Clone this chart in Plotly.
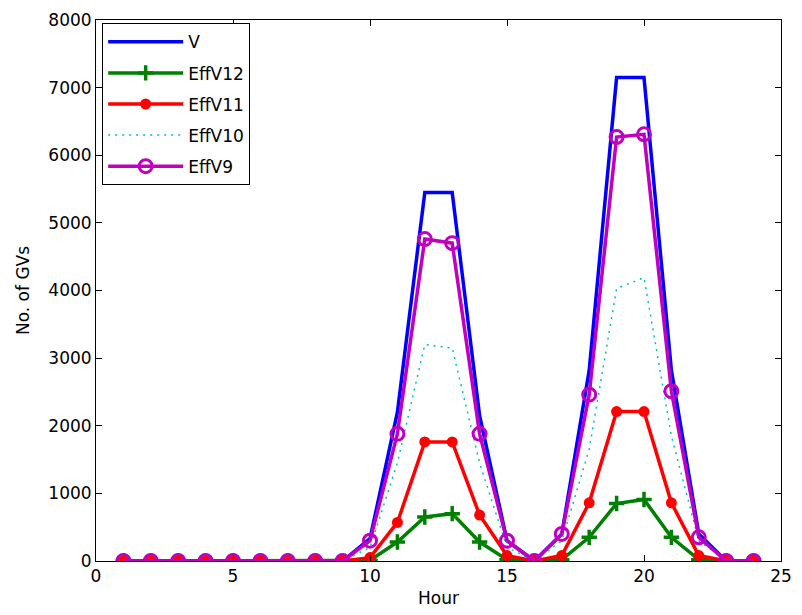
import plotly.graph_objects as go

hours = list(range(1, 25))
V =      [0, 0, 0, 0, 0, 0, 0, 0, 0, 330, 2200, 5450, 5450, 2150, 300, 0, 400, 2820, 7150, 7150, 2820, 400, 0, 0]
EffV12 = [0, 0, 0, 0, 0, 0, 0, 0, 0, 10, 280, 650, 700, 280, 20, 0, 20, 350, 850, 910, 350, 20, 0, 0]
EffV11 = [0, 0, 0, 0, 0, 0, 0, 0, 0, 50, 570, 1760, 1760, 680, 80, 0, 80, 860, 2210, 2210, 860, 80, 0, 0]
EffV10 = [0, 0, 0, 0, 0, 0, 0, 0, 0, 200, 1450, 3200, 3150, 1450, 200, 0, 300, 1650, 4030, 4190, 1850, 300, 0, 0]
EffV9 =  [0, 0, 0, 0, 0, 0, 0, 0, 0, 300, 1880, 4760, 4700, 1880, 300, 0, 400, 2460, 6270, 6310, 2510, 350, 0, 0]

fig = go.Figure()
fig.add_trace(go.Scatter(x=hours, y=V, name="V", mode="lines", legendgroup="a",
                         line=dict(color="#0000ff", width=3.5)))
fig.add_trace(go.Scatter(x=hours, y=EffV12, name="EffV12", mode="lines+markers", legendgroup="b",
                         line=dict(color="#008000", width=3.5),
                         marker=dict(symbol="cross-thin", size=11, line=dict(color="#008000", width=3.5))))
fig.add_trace(go.Scatter(x=hours, y=EffV11, name="EffV11", mode="lines+markers", legendgroup="c",
                         line=dict(color="#ff0000", width=3.5),
                         marker=dict(symbol="circle", size=11, color="#ff0000")))
fig.add_trace(go.Scatter(x=hours, y=EffV10, name="EffV10", mode="lines", legendgroup="d",
                         line=dict(color="#00bfbf", width=1.5, dash="2px,5px")))
fig.add_trace(go.Scatter(x=hours, y=EffV9, name="EffV9", mode="lines+markers", legendgroup="e",
                         line=dict(color="#bf00bf", width=3.5),
                         marker=dict(symbol="circle-open", size=13, line=dict(color="#bf00bf", width=3))))

axis_common = dict(showline=True, linecolor="black", linewidth=1, mirror="ticks",
                   ticks="inside", ticklen=6, tickcolor="black", showgrid=False, zeroline=False,
                   tickfont=dict(size=17, color="black"))
fig.update_xaxes(range=[0, 25], tickvals=[0, 5, 10, 15, 20, 25],
                 title=dict(text="Hour", font=dict(size=17, color="black"), standoff=6), **axis_common)
fig.update_yaxes(range=[0, 8000], tickvals=list(range(0, 8001, 1000)),
                 title=dict(text="No. of GVs", font=dict(size=17, color="black"), standoff=14), **axis_common)

fig.update_layout(
    width=802, height=615,
    margin=dict(l=96, r=13, t=10, b=54),
    plot_bgcolor="white", paper_bgcolor="white",
    font=dict(family="DejaVu Sans, sans-serif", size=17, color="black"),
    legend=dict(x=0.009, y=0.994, xanchor="left", yanchor="top",
                bordercolor="black", borderwidth=1, bgcolor="white",
                font=dict(size=17), tracegroupgap=6, itemwidth=75),
    showlegend=True,
)

fig.write_html("out.html")
